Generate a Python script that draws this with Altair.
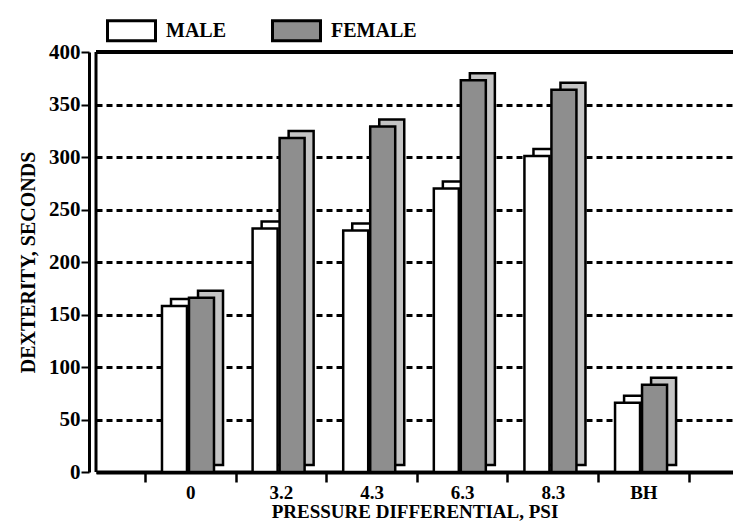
import altair as alt
import pandas as pd

categories = ["0", "3.2", "4.3", "6.3", "8.3", "BH"]
groups = ["MALE", "FEMALE"]
male = [158, 232, 230, 270, 301, 66]
female = [166, 318, 329, 373, 364, 83]
y_ticks = [0, 50, 100, 150, 200, 250, 300, 350, 400]

rows = []
for c, m, f in zip(categories, male, female):
    rows.append({"pressure": c, "sex": "MALE", "seconds": m})
    rows.append({"pressure": c, "sex": "FEMALE", "seconds": f})
df = pd.DataFrame(rows)

FONT = "Liberation Serif"

x_enc = alt.X(
    "pressure:N",
    sort=categories,
    scale=alt.Scale(paddingInner=0, paddingOuter=0.515, align=0.525),
    axis=alt.Axis(
        title="PRESSURE DIFFERENTIAL, PSI",
        labelAngle=0,
        tickBand="extent",
        tickSize=10,
        tickWidth=2.5,
        tickColor="black",
        domainWidth=4,
        domainColor="black",
        labelFont=FONT,
        labelFontSize=19,
        labelFontWeight="bold",
        labelColor="black",
        labelPadding=1,
        titleFont=FONT,
        titleFontSize=19,
        titleFontWeight="bold",
        titleColor="black",
        titlePadding=0,
        grid=False,
    ),
)
y_enc = alt.Y(
    "seconds:Q",
    scale=alt.Scale(domain=[0, 400], nice=False, zero=True),
    axis=alt.Axis(
        values=y_ticks,
        title="DEXTERITY, SECONDS",
        grid=True,
        gridDash=[6, 4],
        gridWidth=3,
        gridColor="black",
        domainWidth=3,
        domainColor="black",
        offset=7,
        tickSize=8,
        tickWidth=2,
        tickColor="black",
        labelFont=FONT,
        labelFontSize=21,
        labelFontWeight="bold",
        labelColor="black",
        labelPadding=1,
        titleFont=FONT,
        titleFontSize=20,
        titleFontWeight="bold",
        titleColor="black",
        titlePadding=10,
    ),
)

back = alt.Chart(df).mark_bar(yOffset=-7, stroke="black", strokeWidth=2.5).encode(
    x=x_enc,
    xOffset=alt.XOffset(
        "sex:N", sort=groups,
        scale=alt.Scale(paddingInner=0.074, paddingOuter=0.715, align=0.674),
    ),
    y=y_enc,
    fill=alt.Fill("sex:N", sort=groups,
                  scale=alt.Scale(domain=groups, range=["white", "#c4c4c4"]),
                  legend=None),
)

front = alt.Chart(df).mark_bar(stroke="black", strokeWidth=2.5).encode(
    x=x_enc,
    xOffset=alt.XOffset(
        "sex:N", sort=groups,
        scale=alt.Scale(paddingInner=0.074, paddingOuter=0.715, align=0.44),
    ),
    y=y_enc,
    fill=alt.Fill(
        "sex:N", sort=groups,
        scale=alt.Scale(domain=groups, range=["white", "#8e8e8e"]),
        legend=alt.Legend(
            title=None,
            orient="none",
            direction="horizontal",
            legendX=14,
            legendY=-43,
            padding=0,
            symbolType="M-1.2,-0.5H1.2V0.5H-1.2Z",
            symbolSize=1600,
            symbolStrokeColor="black",
            symbolStrokeWidth=3,
            symbolOpacity=1,
            labelOffset=13,
            columnPadding=40,
            labelFont=FONT,
            labelFontSize=20,
            labelFontWeight="bold",
            labelColor="black",
        ),
    ),
)

frame_df = pd.DataFrame({"k": [0]})
top_line = alt.Chart(frame_df).mark_rule(strokeWidth=4, color="black").encode(
    y=alt.datum(400)
)
wall_line = alt.Chart(frame_df).mark_rule(strokeWidth=3, color="black").encode(
    x=alt.value(0)
)

chart = (
    alt.layer(back, front, top_line, wall_line)
    .resolve_scale(xOffset="independent", fill="independent")
    .properties(
        width=637,
        height=420,
        autosize=alt.AutoSizeParams(type="none"),
        padding={"left": 88, "top": 44, "right": 0, "bottom": 51},
        background="white",
    )
    .configure_view(stroke=None)
)

chart.save("out.html", embed_options={"renderer": "svg", "actions": False})
